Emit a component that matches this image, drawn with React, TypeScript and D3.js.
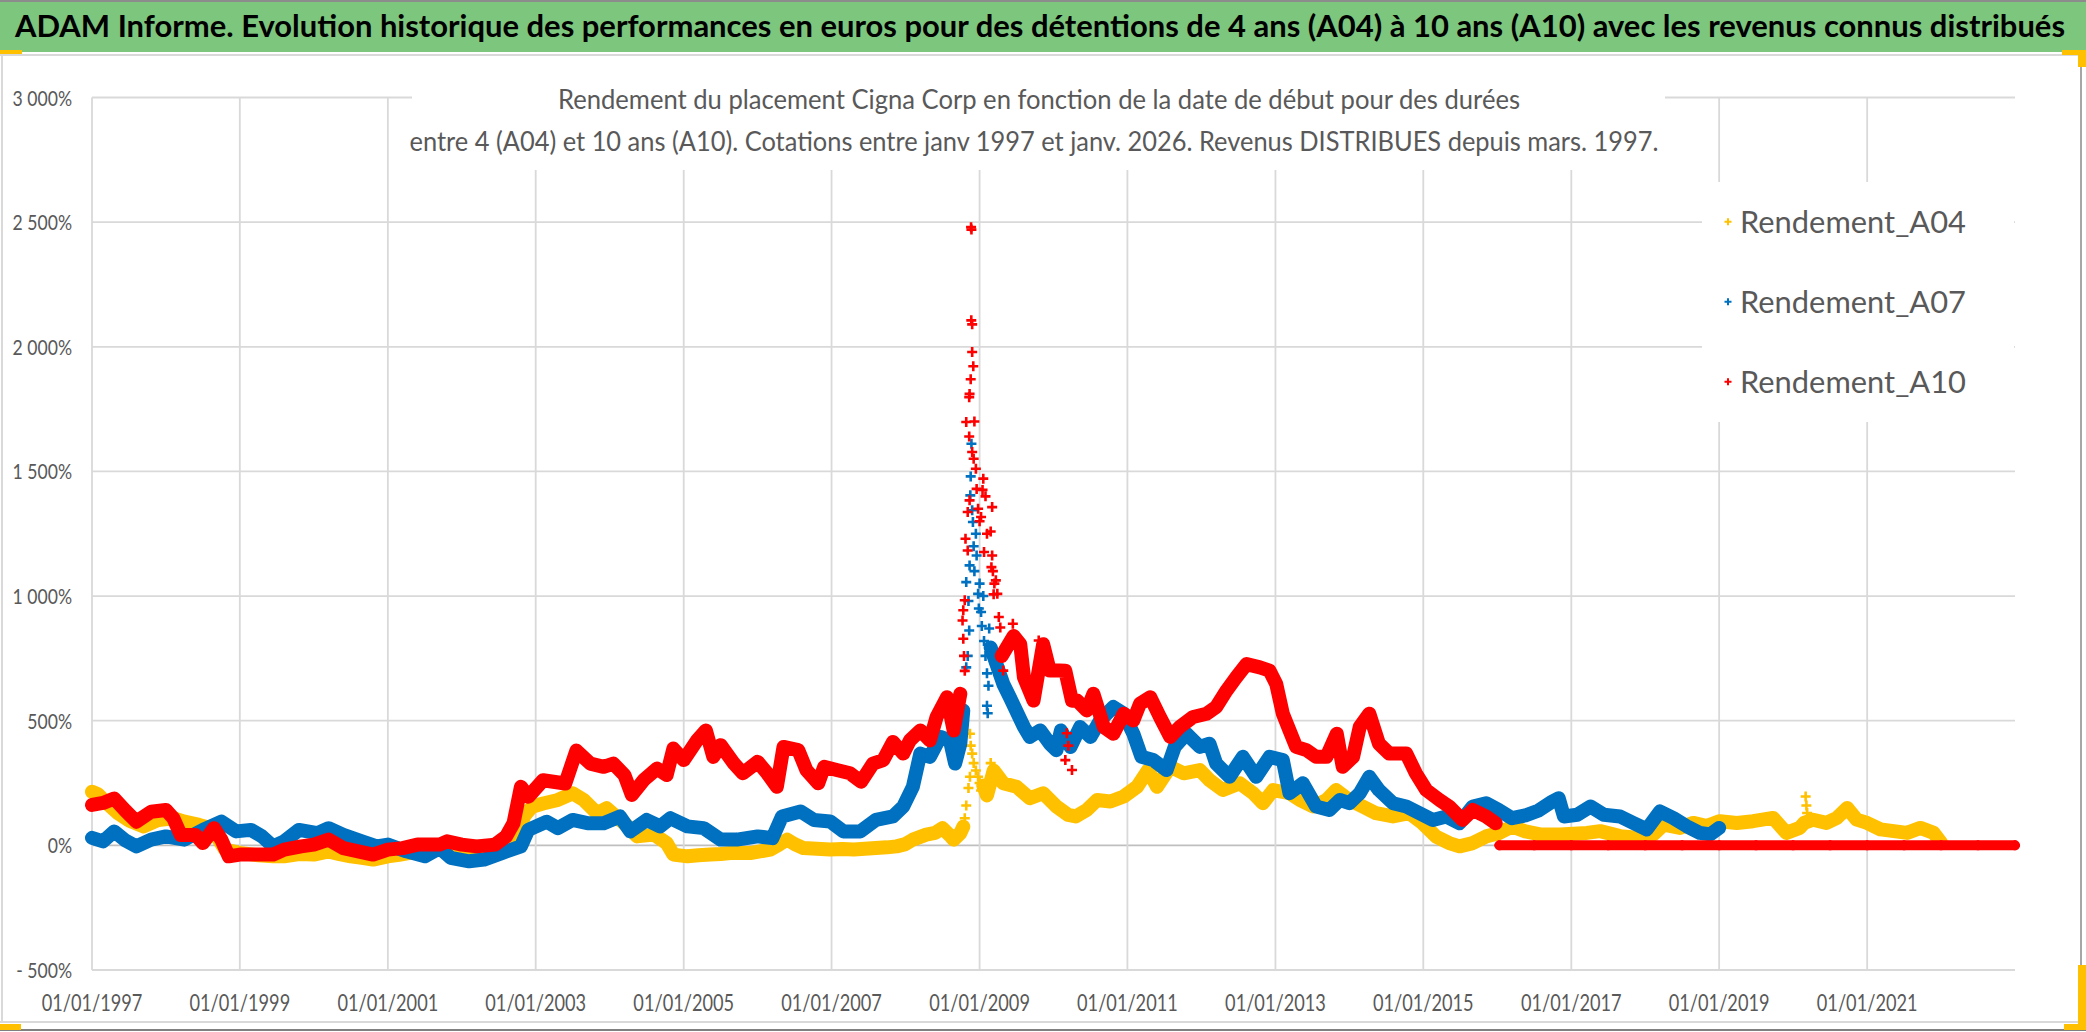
import React from 'react';
import * as d3 from 'd3';

type Pt = [number, number | null];

// ---- Data (decimal year, return in %) ----
const A04_BAND: Pt[] = [
  [1997.0, 215], [1997.08, 205], [1997.2, 170], [1997.35, 129], [1997.5, 100], [1997.7, 76], [1997.9, 102],
  [1998.1, 109], [1998.25, 95], [1998.45, 82], [1998.6, 70], [1998.7, 30], [1998.8, -17], [1999.0, -30],
  [1999.25, -40], [1999.45, -44], [1999.6, -44], [1999.8, -35], [2000.0, -37], [2000.2, -24], [2000.35, -35],
  [2000.5, -44], [2000.65, -50], [2000.8, -57], [2001.0, -44], [2001.15, -38], [2001.3, -30], [2001.45, -20],
  [2001.6, -11], [2001.75, -8], [2001.9, -11], [2002.15, -17], [2002.35, -14], [2002.5, -11], [2002.65, 10],
  [2002.75, 49], [2002.85, 120], [2002.95, 155], [2003.1, 168], [2003.3, 182], [2003.5, 209], [2003.65, 182],
  [2003.83, 129], [2003.96, 149], [2004.14, 102], [2004.25, 75], [2004.37, 36], [2004.6, 43], [2004.77, 9],
  [2004.86, -37], [2005.05, -44], [2005.2, -40], [2005.36, -37], [2005.5, -35], [2005.63, -31], [2005.9, -31],
  [2006.17, -17], [2006.3, 5], [2006.4, 23], [2006.5, 5], [2006.62, -11], [2006.8, -14], [2006.98, -17],
  [2007.15, -15], [2007.3, -17], [2007.45, -14], [2007.6, -11], [2007.75, -8], [2007.88, -4], [2008.0, 5],
  [2008.1, 23], [2008.28, 43], [2008.4, 50], [2008.5, 69], [2008.6, 40], [2008.65, 23], [2008.74, 49],
  [2008.78, 75], [2008.79, null],
  [2009.05, 240], [2009.1, 200], [2009.19, 300], [2009.32, 249], [2009.5, 235], [2009.68, 189], [2009.86, 209],
  [2010.04, 156], [2010.2, 122], [2010.3, 116], [2010.45, 142], [2010.59, 182], [2010.77, 176], [2010.95, 196],
  [2011.13, 235], [2011.28, 302], [2011.4, 235], [2011.58, 315], [2011.76, 289], [2011.98, 302], [2012.11, 262],
  [2012.29, 222], [2012.52, 249], [2012.7, 209], [2012.83, 169], [2012.97, 222], [2013.19, 209], [2013.33, 182],
  [2013.51, 156], [2013.69, 182], [2013.82, 222], [2014.0, 182], [2014.18, 156], [2014.36, 129], [2014.59, 116],
  [2014.81, 129], [2014.99, 89], [2015.17, 36], [2015.35, 9], [2015.49, -4], [2015.67, 9], [2015.85, 36],
  [2016.02, 49], [2016.2, 76], [2016.38, 56], [2016.58, 44], [2016.85, 44], [2017.21, 50], [2017.39, 57],
  [2017.66, 37], [2017.93, 30], [2018.11, 44], [2018.25, 83], [2018.47, 70], [2018.65, 90], [2018.83, 77],
  [2019.01, 97], [2019.24, 90], [2019.46, 97], [2019.73, 110], [2019.91, 50], [2020.09, 70], [2020.15, 90],
  [2020.27, 103], [2020.45, 90], [2020.59, 110], [2020.73, 150], [2020.86, 103], [2021.0, 90], [2021.18, 64],
  [2021.36, 57], [2021.54, 50], [2021.72, 70], [2021.9, 50], [2022.0, 11],
];

const A04_SCATTER: Pt[] = [
  [2008.8, 109], [2008.82, 160], [2008.85, 230], [2008.87, 275], [2008.87, 448], [2008.88, 400], [2008.9, 368],
  [2008.92, 330], [2008.95, 300], [2008.98, 275], [2009.0, 250], [2009.02, 220], [2009.15, 330],
  [2020.17, 196], [2020.18, 160], [2020.19, 130],
];

const A07_BAND: Pt[] = [
  [1997.0, 30], [1997.15, 16], [1997.3, 56], [1997.45, 20], [1997.6, -4], [1997.8, 23], [1998.0, 36],
  [1998.25, 23], [1998.5, 62], [1998.75, 95], [1998.95, 56], [1999.15, 62], [1999.3, 36], [1999.45, -4],
  [1999.6, 16], [1999.8, 62], [2000.05, 49], [2000.2, 69], [2000.4, 42], [2000.65, 16], [2000.85, -4],
  [2001.0, 3], [2001.25, -24], [2001.5, -44], [2001.7, -11], [2001.85, -50], [2002.1, -64], [2002.3, -57],
  [2002.55, -30], [2002.8, -4], [2002.9, 62], [2003.15, 95], [2003.3, 69], [2003.5, 102], [2003.7, 89],
  [2003.92, 89], [2004.14, 116], [2004.28, 56], [2004.5, 102], [2004.68, 76], [2004.82, 109], [2005.05, 76],
  [2005.27, 69], [2005.5, 23], [2005.72, 23], [2006.0, 36], [2006.2, 29], [2006.33, 116], [2006.58, 136],
  [2006.76, 102], [2006.98, 96], [2007.16, 56], [2007.39, 56], [2007.6, 102], [2007.83, 116], [2007.97, 156],
  [2008.1, 235], [2008.2, 368], [2008.33, 355], [2008.47, 435], [2008.6, 421], [2008.67, 328], [2008.74, 408],
  [2008.78, 541], [2008.8, null],
  [2009.15, 794], [2009.32, 648], [2009.41, 594], [2009.6, 475], [2009.68, 435], [2009.82, 461], [2009.95, 408],
  [2010.04, 382], [2010.1, 461], [2010.23, 395], [2010.36, 475], [2010.5, 435], [2010.63, 501], [2010.81, 555],
  [2010.95, 528], [2011.08, 448], [2011.19, 355], [2011.35, 342], [2011.53, 302], [2011.64, 395], [2011.8, 448],
  [2011.98, 395], [2012.11, 408], [2012.2, 328], [2012.38, 275], [2012.56, 355], [2012.74, 275], [2012.92, 355],
  [2013.1, 342], [2013.19, 209], [2013.37, 249], [2013.55, 156], [2013.73, 142], [2013.87, 182], [2014.0, 169],
  [2014.14, 209], [2014.27, 275], [2014.4, 222], [2014.59, 169], [2014.77, 156], [2014.95, 129], [2015.13, 102],
  [2015.31, 116], [2015.49, 89], [2015.67, 156], [2015.85, 169], [2016.02, 142], [2016.2, 109], [2016.38, 120],
  [2016.56, 140], [2016.74, 175], [2016.83, 189], [2016.9, 116], [2017.08, 123], [2017.26, 156], [2017.44, 123],
  [2017.66, 116], [2017.84, 90], [2018.02, 64], [2018.2, 136], [2018.38, 110], [2018.56, 77], [2018.74, 50],
  [2018.88, 44], [2019.0, 70],
];

const A07_SCATTER: Pt[] = [
  [2008.82, 714], [2008.84, 760], [2008.82, 1056], [2008.86, 862], [2008.865, 1123], [2008.875, 1404],
  [2008.89, 1611], [2008.9, 1344], [2008.91, 1297], [2008.93, 1100], [2008.96, 1163], [2008.98, 1009],
  [2008.99, 950], [2009.02, 936], [2009.03, 880], [2009.06, 820], [2009.08, 760], [2009.1, 690],
  [2009.12, 640], [2008.95, 1250], [2008.88, 1480], [2008.92, 1200], [2009.0, 1050], [2008.85, 980],
  [2009.05, 1000], [2009.13, 870], [2009.1, 560], [2009.11, 530],
];

const A10_BAND: Pt[] = [
  [1997.0, 162], [1997.15, 170], [1997.3, 188], [1997.45, 140], [1997.6, 95], [1997.8, 135], [1998.0, 142],
  [1998.1, 109], [1998.2, 42], [1998.4, 42], [1998.5, 9], [1998.65, 69], [1998.75, 23], [1998.85, -44],
  [1999.0, -37], [1999.25, -37], [1999.45, -37], [1999.6, -17], [1999.83, -4], [2000.0, 3], [2000.2, 23],
  [2000.4, -11], [2000.6, -24], [2000.8, -37], [2001.0, -17], [2001.2, -11], [2001.4, 3], [2001.7, 3],
  [2001.8, 16], [2002.0, 3], [2002.2, -4], [2002.45, 3], [2002.6, 36], [2002.7, 89], [2002.8, 235],
  [2002.9, 195], [2003.1, 261], [2003.4, 248], [2003.55, 380], [2003.74, 328], [2003.92, 315], [2004.05, 328],
  [2004.2, 282], [2004.3, 202], [2004.46, 262], [2004.64, 308], [2004.77, 282], [2004.86, 388], [2005.0, 342],
  [2005.18, 421], [2005.3, 461], [2005.4, 355], [2005.5, 402], [2005.68, 328], [2005.8, 289], [2006.0, 335],
  [2006.13, 289], [2006.26, 235], [2006.35, 395], [2006.55, 382], [2006.66, 302], [2006.82, 249], [2006.9, 315],
  [2007.07, 302], [2007.25, 289], [2007.4, 255], [2007.56, 328], [2007.7, 342], [2007.83, 415], [2007.97, 368],
  [2008.06, 421], [2008.2, 461], [2008.33, 421], [2008.42, 515], [2008.56, 594], [2008.65, 461], [2008.74, 608],
  [2008.76, null],
  [2009.3, 760], [2009.46, 840], [2009.55, 807], [2009.6, 674], [2009.73, 581], [2009.86, 807], [2009.95, 701],
  [2010.08, 701], [2010.16, 700], [2010.25, 580], [2010.32, 581], [2010.45, 541], [2010.54, 608], [2010.68, 475],
  [2010.81, 448], [2010.95, 528], [2011.08, 501], [2011.17, 568], [2011.31, 594], [2011.44, 515], [2011.58, 435],
  [2011.71, 475], [2011.89, 515], [2012.07, 528], [2012.2, 555], [2012.34, 621], [2012.47, 674], [2012.61, 727],
  [2012.79, 714], [2012.92, 701], [2013.01, 648], [2013.1, 528], [2013.19, 461], [2013.28, 395], [2013.42, 382],
  [2013.55, 355], [2013.69, 355], [2013.83, 448], [2013.91, 315], [2014.05, 355], [2014.14, 475], [2014.27, 528],
  [2014.4, 408], [2014.54, 368], [2014.77, 368], [2014.9, 289], [2015.04, 222], [2015.22, 182], [2015.35, 156],
  [2015.53, 102], [2015.67, 142], [2015.85, 116], [2015.98, 89],
];

const A10_SCATTER: Pt[] = [
  [2008.885, 2480], [2008.89, 2470], [2008.888, 2106], [2008.9, 2090], [2008.9, 1979], [2008.915, 1922],
  [2008.865, 1811], [2008.86, 1798], [2008.82, 1698], [2008.86, 1640], [2008.9, 1578], [2008.92, 1551],
  [2008.95, 1511], [2009.05, 1471], [2008.96, 1430], [2009.04, 1426], [2008.865, 1384], [2008.98, 1350],
  [2009.17, 1357], [2008.84, 1337], [2009.02, 1317], [2009.15, 1259], [2008.81, 1230], [2008.84, 1183],
  [2009.06, 1177], [2009.17, 1163], [2009.16, 1116], [2009.22, 1063], [2008.8, 983], [2008.78, 943],
  [2008.77, 902], [2008.78, 829], [2009.45, 889], [2009.24, 1009], [2009.26, 916], [2009.8, 822],
  [2009.19, 1007], [2009.18, 1100], [2009.2, 1050], [2009.28, 874], [2009.32, 701], [2009.1, 1250],
  [2009.0, 1300], [2008.93, 1700], [2008.88, 1870], [2009.08, 1400], [2010.16, 342], [2010.25, 302],
  [2010.2, 400], [2010.18, 450], [2008.79, 760], [2008.8, 700],
];

const A10_ZERO: Pt[] = [
  [2016.03, 0], [2016.5, 0], [2017.0, 0], [2017.5, 0], [2018.0, 0], [2018.5, 0], [2019.0, 0], [2019.5, 0],
  [2020.0, 0], [2020.5, 0], [2021.0, 0], [2021.5, 0], [2022.0, 0], [2022.5, 0], [2023.0, 0],
];

const SERIES_NAMES = ['Rendement_A04', 'Rendement_A07', 'Rendement_A10'];
const SERIES_COLORS = ['#FFC000', '#0070C0', '#FF0000'];
const Y_TICKS = [-500, 0, 500, 1000, 1500, 2000, 2500, 3000];
const X_TICK_YEARS = [1997, 1999, 2001, 2003, 2005, 2007, 2009, 2011, 2013, 2015, 2017, 2019, 2021];

const TITLE = 'ADAM Informe. Evolution historique des performances en euros pour des détentions de 4 ans (A04) à 10 ans (A10) avec les revenus connus distribués';
const SUB1 = 'Rendement du placement Cigna Corp en fonction de la date de début pour des durées';
const SUB2 = 'entre 4 (A04) et 10 ans (A10). Cotations entre janv 1997 et janv. 2026. Revenus DISTRIBUES depuis mars. 1997.';

const W = 2086;
const H = 1032;
const FONT = 'Lato, Carlito, "Open Sans", sans-serif';
const GRID = '#D9D9D9';
const TEXT = '#595959';

function toDate(yf: number): Date {
  const y = Math.floor(yf);
  const a = new Date(y, 0, 1).getTime();
  const b = new Date(y + 1, 0, 1).getTime();
  return new Date(a + (yf - y) * (b - a));
}

const locale = d3.formatLocale({ decimal: ',', thousands: ' ', grouping: [3], currency: ['', ''] });
const fmtInt = locale.format(',');
const fmtPct = (v: number) => (v < 0 ? '- ' : '') + fmtInt(Math.abs(v)) + '%';

const PLUS = 'M-5,0H5M0,-5V5';

export default function App() {
  const x = d3.scaleTime().domain([new Date(1997, 0, 1), new Date(2023, 0, 1)]).range([92, 2015]);
  const y = d3.scaleLinear().domain([-500, 3000]).range([970, 97.5]);
  const [x0, x1] = x.range();

  const line = d3
    .line<Pt>()
    .defined((d) => d[1] !== null)
    .x((d) => x(toDate(d[0])))
    .y((d) => y(d[1] as number));

  const series = [
    { band: [A04_BAND], scatter: A04_SCATTER, color: SERIES_COLORS[0] },
    { band: [A07_BAND], scatter: A07_SCATTER, color: SERIES_COLORS[1] },
    { band: [A10_BAND, A10_ZERO], scatter: A10_SCATTER, color: SERIES_COLORS[2] },
  ];

  const legendY = [221.7, 301.7, 381.7];

  return (
    <svg width={W} height={H} style={{ position: 'absolute', left: 0, top: 0, display: 'block', background: '#fff' }}>
      <rect x={0} y={0} width={W} height={H} fill="#fff" />
      {/* title banner */}
      <rect x={0} y={2} width={W} height={50} fill="#7DC67E" />
      <line x1={0} x2={W} y1={1} y2={1} stroke="#8C8C8C" strokeWidth={2} />
      <line x1={0} x2={2081} y1={55} y2={55} stroke={GRID} strokeWidth={2} />
      <line x1={2} x2={2} y1={55} y2={1022} stroke={GRID} strokeWidth={2} />
      <line x1={2081} x2={2081} y1={55} y2={1022} stroke="#A6A6A6" strokeWidth={2} />
      <line x1={0} x2={2081} y1={1022} y2={1022} stroke={GRID} strokeWidth={2} />
      <line x1={0} x2={W} y1={1030} y2={1030} stroke="#808080" strokeWidth={2} />
      {/* selection handles */}
      <rect x={0} y={50} width={22} height={4} fill="#FFC000" />
      <rect x={2062} y={50} width={24} height={5} fill="#FFC000" />
      <rect x={2078} y={50} width={8} height={17} fill="#FFC000" />
      <rect x={2078} y={965} width={8} height={65} fill="#FFC000" />
      <rect x={2064} y={1024} width={22} height={6} fill="#FFC000" />
      <rect x={0} y={1024} width={21} height={6} fill="#FFC000" />

      <text
        x={1040}
        y={37}
        textAnchor="middle"
        fontFamily={FONT}
        fontWeight={700}
        fontSize={31}
        fill="#000"
        textLength={2050}
        lengthAdjust="spacingAndGlyphs"
      >
        {TITLE}
      </text>

      {/* gridlines */}
      {Y_TICKS.map((t) => (
        <line key={'gy' + t} x1={x0} x2={x1} y1={y(t)} y2={y(t)} stroke={t === 0 ? '#BFBFBF' : GRID} strokeWidth={1.8} />
      ))}
      {X_TICK_YEARS.map((yr) => {
        const px = x(new Date(yr, 0, 1));
        return <line key={'gx' + yr} x1={px} x2={px} y1={y(3000)} y2={y(-500)} stroke={GRID} strokeWidth={1.8} />;
      })}

      {/* subtitle & legend backgrounds */}
      <rect x={412} y={60} width={1253} height={110} fill="#fff" />
      <rect x={1702} y={182} width={312} height={240} fill="#fff" />

      {/* series */}
      {series.map((s, i) => (
        <g key={'s' + i}>
          {s.band.map((b, j) => (
            <path
              key={'b' + j}
              d={line(b) || ''}
              fill="none"
              stroke={s.color}
              strokeWidth={j === 1 ? 10 : 14}
              strokeLinejoin="round"
              strokeLinecap="round"
            />
          ))}
          {s.band.map((b, j) =>
            b
              .filter((d) => d[1] !== null)
              .map((d, k) => (
                <path
                  key={'m' + j + '-' + k}
                  d={PLUS}
                  transform={`translate(${x(toDate(d[0]))},${y(d[1] as number)})`}
                  stroke={s.color}
                  strokeWidth={2.6}
                />
              ))
          )}
          {s.scatter.map((d, k) => (
            <path
              key={'sc' + k}
              d={PLUS}
              transform={`translate(${x(toDate(d[0]))},${y(d[1] as number)})`}
              stroke={s.color}
              strokeWidth={2.6}
            />
          ))}
        </g>
      ))}

      {/* y labels */}
      {Y_TICKS.map((t) => (
        <text
          key={'ly' + t}
          transform={`translate(72,${y(t) + 8}) scale(0.8,1)`}
          textAnchor="end"
          fontFamily={FONT}
          fontSize={22}
          fill={TEXT}
        >
          {fmtPct(t)}
        </text>
      ))}
      {/* x labels */}
      {X_TICK_YEARS.map((yr) => (
        <text
          key={'lx' + yr}
          transform={`translate(${x(new Date(yr, 0, 1))},1011) scale(0.79,1)`}
          textAnchor="middle"
          fontFamily={FONT}
          fontSize={23}
          fill={TEXT}
        >
          {d3.timeFormat('%d/%m/%Y')(new Date(yr, 0, 1))}
        </text>
      ))}

      {/* subtitle */}
      <text x={1039} y={109} textAnchor="middle" fontFamily={FONT} fontSize={26} fill={TEXT} textLength={962} lengthAdjust="spacingAndGlyphs">
        {SUB1}
      </text>
      <text x={1034} y={151} textAnchor="middle" fontFamily={FONT} fontSize={26} fill={TEXT} textLength={1249} lengthAdjust="spacingAndGlyphs">
        {SUB2}
      </text>

      {/* legend */}
      {SERIES_NAMES.map((n, i) => (
        <g key={'lg' + i}>
          <path d="M-3.5,0H3.5M0,-3.5V3.5" transform={`translate(1728,${legendY[i]})`} stroke={SERIES_COLORS[i]} strokeWidth={2} />
          <text x={1740} y={legendY[i] + 11} fontFamily={FONT} fontSize={30} fill={TEXT} textLength={226} lengthAdjust="spacingAndGlyphs">
            {n}
          </text>
        </g>
      ))}
    </svg>
  );
}
